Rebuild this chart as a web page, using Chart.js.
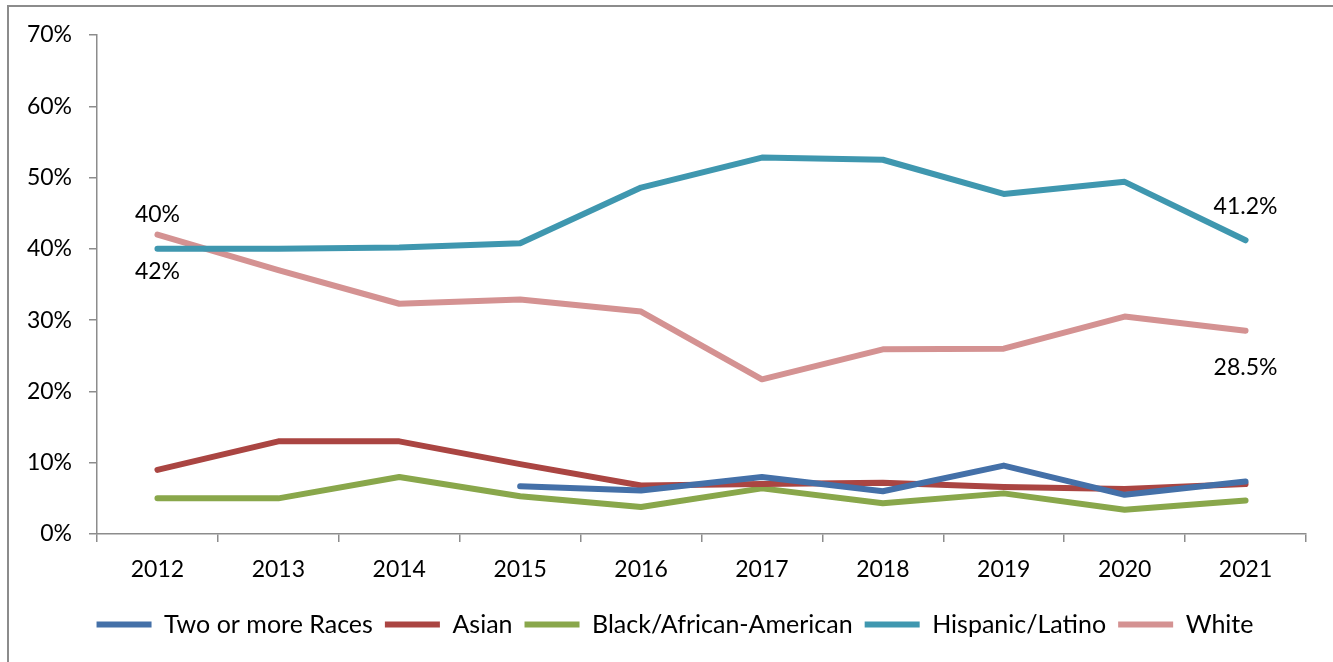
<!DOCTYPE html>
<html>
<head>
<meta charset="utf-8">
<script src="https://cdn.jsdelivr.net/npm/chart.js@4"></script>
<style>
  body { margin: 0; background: #fff; overflow: hidden; }
  .frame { position: absolute; left: 7px; top: 5px; width: 1400px; height: 720px; border: 2px solid #8c8c8c; }
  .wrap { position: absolute; left: 0; top: 0; width: 1333px; height: 662px; }
</style>
</head>
<body>
<div class="frame"></div>
<div class="wrap"><canvas id="grafico"></canvas></div>
<script>
const anos = ['2012', '2013', '2014', '2015', '2016', '2017', '2018', '2019', '2020', '2021']
const twoOrMore = [null, null, null, 6.7, 6.1, 8.0, 6.0, 9.6, 5.5, 7.35]
const asian = [9.0, 13.0, 13.0, 9.8, 6.8, 7.0, 7.2, 6.6, 6.3, 7.0]
const black = [5.0, 5.0, 8.0, 5.3, 3.8, 6.4, 4.3, 5.7, 3.4, 4.7]
const hispanic = [40.0, 40.0, 40.2, 40.8, 48.6, 52.8, 52.5, 47.7, 49.4, 41.2]
const white = [42.0, 37.0, 32.3, 32.9, 31.2, 21.7, 25.9, 26.0, 30.5, 28.5]
const yTicks = [0, 10, 20, 30, 40, 50, 60, 70]

// rotulos nos pontos: serie, indice, acima/abaixo
const rotulos = [
    { serie: 3, i: 0, lado: -1 },
    { serie: 3, i: 9, lado: -1 },
    { serie: 4, i: 0, lado: 1 },
    { serie: 4, i: 9, lado: 1 }
]

const fonte = 'Lato, "Open Sans", sans-serif'

function linha(label, data, cor) {
    return {
        label: label,
        data: data,
        borderColor: cor,
        backgroundColor: cor,
        borderWidth: 6,
        borderCapStyle: 'round',
        borderJoinStyle: 'round',
        pointRadius: 0,
        pointHoverRadius: 0,
        pointStyle: 'line',
        tension: 0,
        spanGaps: false
    }
}

const pluginRotulos = {
    id: 'rotulos',
    afterLayout(chart) {
        // legenda um pouco para a direita, como no original
        chart.legend.left += 17
        chart.legend.right += 17
    },
    afterDatasetsDraw(chart) {
        const ctx = chart.ctx
        ctx.save()
        ctx.font = '23px ' + fonte
        ctx.fillStyle = '#000'
        ctx.textAlign = 'center'
        ctx.textBaseline = 'middle'
        rotulos.forEach(r => {
            const ponto = chart.getDatasetMeta(r.serie).data[r.i]
            const v = chart.data.datasets[r.serie].data[r.i]
            const txt = (Number.isInteger(v) ? v : v.toFixed(1)) + '%'
            const dy = r.lado < 0 ? -34 : 37
            ctx.fillText(txt, ponto.x, ponto.y + dy)
        })
        ctx.restore()
    }
}

const data = {
    labels: anos,
    datasets: [
        linha('Two or more Races', twoOrMore, '#4470A8'),
        linha('Asian', asian, '#AA4542'),
        linha('Black/African-American', black, '#89A74B'),
        linha('Hispanic/Latino', hispanic, '#3F97AF'),
        linha('White', white, '#D49292')
    ]
}

const config = {
    type: 'line',
    data: data,
    plugins: [pluginRotulos],
    options: {
        responsive: false,
        animation: false,
        events: [],
        layout: { padding: { left: 10, right: 27, top: 35, bottom: 15 } },
        plugins: {
            tooltip: { enabled: false },
            legend: {
                position: 'bottom',
                labels: {
                    color: '#000',
                    font: { family: fonte, size: 25 },
                    usePointStyle: true,
                    pointStyleWidth: 55,
                    boxHeight: 6,
                    padding: 12
                }
            }
        },
        scales: {
            x: {
                offset: true,
                afterFit: s => { s.height = 66 },
                grid: { display: true, offset: true, drawOnChartArea: false, drawTicks: true, tickLength: 8, color: '#8c8c8c', lineWidth: 1.5 },
                border: { display: true, color: '#8c8c8c', width: 1.5 },
                ticks: { color: '#000', font: { family: fonte, size: 23 }, padding: 14 }
            },
            y: {
                min: 0,
                max: 70,
                afterFit: s => { s.width = 87 },
                afterBuildTicks: s => { s.ticks = yTicks.map(v => ({ value: v })) },
                grid: { display: true, drawOnChartArea: false, drawTicks: true, tickLength: 8, color: '#8c8c8c', lineWidth: 1.5 },
                border: { display: true, color: '#8c8c8c', width: 1.5 },
                ticks: { color: '#000', font: { family: fonte, size: 23 }, padding: 17, callback: v => v + '%' }
            }
        }
    }
}

let canvas = document.querySelector('#grafico')
canvas.width = 1333
canvas.height = 662
let myChart = new Chart(canvas.getContext('2d'), config)
</script>
</body>
</html>
